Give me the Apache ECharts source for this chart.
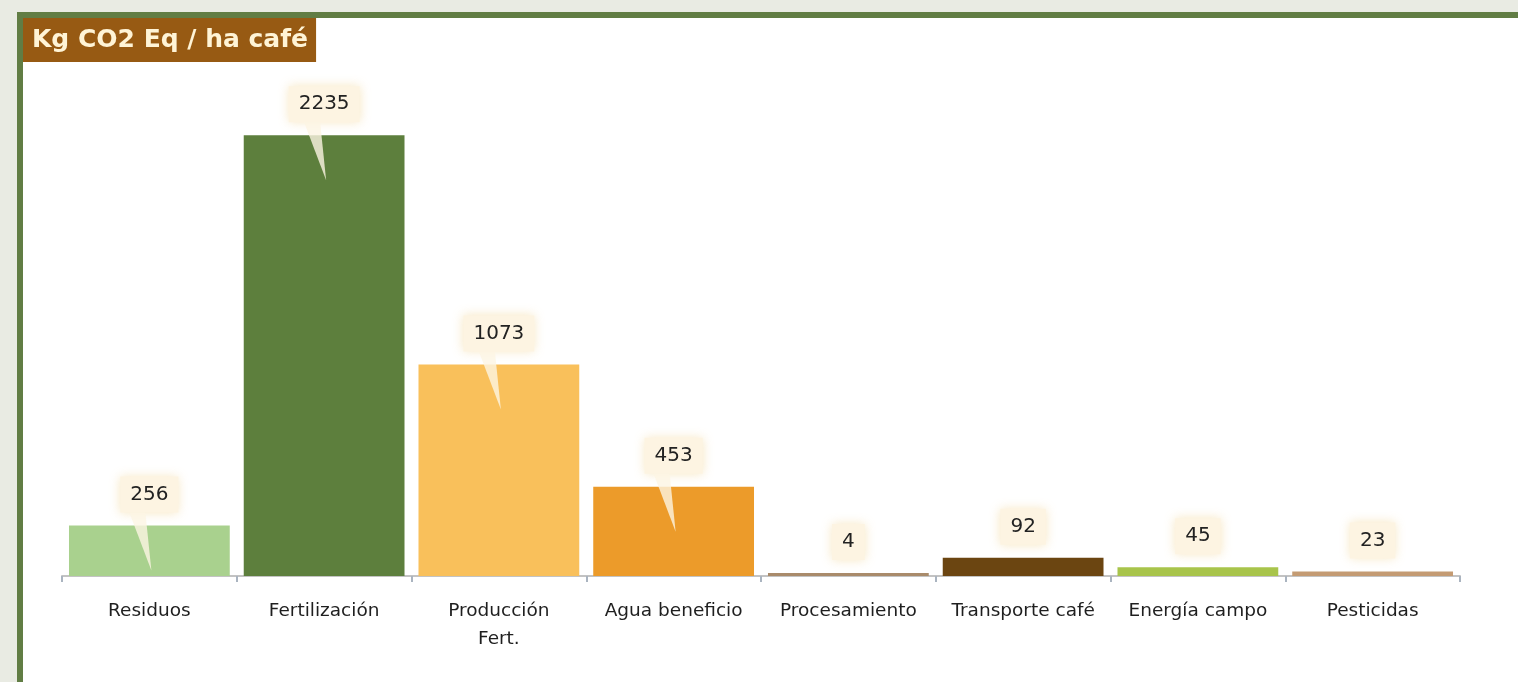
<!DOCTYPE html>
<html>
<head>
<meta charset="utf-8">
<script src="https://cdn.jsdelivr.net/npm/echarts@6/dist/echarts.min.js"></script>
<style>
    html, body { margin: 0; padding: 0; background: #e9ebe3; }
    #chart { width: 1518px; height: 682px; }
</style>
</head>
<body>
<div id="chart"></div>
<script>
const categories = ['Residuos', 'Fertilización', 'Producción Fert.', 'Agua beneficio', 'Procesamiento', 'Transporte café', 'Energía campo', 'Pesticidas'];
const values = [256, 2235, 1073, 453, 4, 92, 45, 23];
const barColors = ['#a9d18e', '#5d7f3d', '#f9c05b', '#ec9b2a', '#a98b6b', '#6b4511', '#a8c44b', '#c49b73'];

let chart = echarts.init(document.getElementById('chart'));

let option = {
    backgroundColor: '#e9ebe3',
    graphic: [
        {
            // white panel with the green frame, runs off right/bottom
            type: 'rect',
            shape: { x: 20, y: 15, width: 1520, height: 690 },
            style: { fill: '#ffffff', stroke: '#617d44', lineWidth: 6 },
            z: -10
        }
    ],
    title: {
        text: 'Kg CO2 Eq / ha café',
        left: 23,
        top: 18,
        padding: [6, 8, 6, 9],
        backgroundColor: '#975a13',
        textStyle: {
            fontFamily: 'DejaVu Sans',
            fontSize: 25,
            fontWeight: 'bold',
            lineHeight: 32,
            color: '#fff4d6'
        }
    },
    grid: {
        left: 62,
        right: 58,
        top: 83,
        bottom: 106
    },
    xAxis: {
        type: 'category',
        data: categories,
        axisLine: { lineStyle: { color: '#c3c3c3', width: 2 } },
        axisTick: { show: true, length: 6, lineStyle: { color: '#aab4c0', width: 2 } },
        axisLabel: {
            margin: 21,
            fontFamily: 'DejaVu Sans',
            fontSize: 18.5,
            lineHeight: 28,
            color: '#1f1f1f',
            interval: 0,
            // long names go on two lines, like the original
            formatter: function (name) {
                if (name.length > 15) {
                    let k = name.lastIndexOf(' ');
                    return name.slice(0, k) + '\n' + name.slice(k + 1);
                }
                return name;
            }
        }
    },
    yAxis: {
        type: 'value',
        min: 0,
        max: 2500,
        show: false,
        splitLine: { show: false }
    },
    series: [
        {
            type: 'bar',
            barCategoryGap: '8%',
            barMinHeight: 3,
            z: 2,
            data: values.map((v, i) => ({ value: v, itemStyle: { color: barColors[i] } })),
            label: {
                show: true,
                position: 'top',
                distance: 13,
                fontFamily: 'DejaVu Sans',
                fontSize: 20,
                lineHeight: 22,
                color: '#222222',
                backgroundColor: '#fdf4e2',
                padding: [7, 10, 7, 10],
                shadowBlur: 10,
                shadowColor: 'rgba(245, 225, 180, 0.8)'
            }
        },
        {
            // callout pointers from the label box down into the bar
            type: 'custom',
            z: 3,
            silent: true,
            data: values.map((v, i) => [i, v]),
            renderItem: function (params, api) {
                let top = api.coord([api.value(0), api.value(1)]);
                let base = api.coord([api.value(0), 0]);
                let tip = top[1] + 45;
                if (tip > base[1]) return;
                return {
                    type: 'polygon',
                    shape: {
                        points: [
                            [top[0] - 20, top[1] - 13],
                            [top[0] - 4, top[1] - 13],
                            [top[0] + 2, tip]
                        ]
                    },
                    style: { fill: 'rgba(253, 245, 228, 0.8)' }
                };
            }
        }
    ]
};

chart.setOption(option);
</script>
</body>
</html>
